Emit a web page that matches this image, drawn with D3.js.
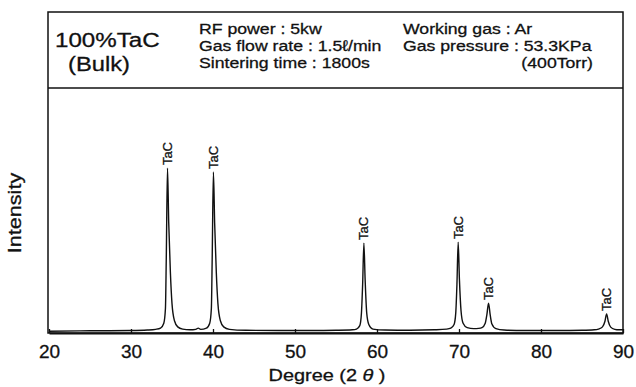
<!DOCTYPE html>
<html>
<head>
<meta charset="utf-8">
<script src="https://cdn.jsdelivr.net/npm/d3@7"></script>
<style>
  body { margin: 0; background: #fff; }
  svg { display: block; font-family: "Liberation Sans", Arial, sans-serif; }
  text { stroke: #111; stroke-width: 0.3px; }
</style>
</head>
<body>
<svg id="chart" width="636" height="387"></svg>
<script>
// XRD trace: [2theta, intensity]
const trace = [
  [20, 0.7], [25, 0.9], [30, 1.0], [32, 1.2], [33, 1.5], [33.6, 2.0], [34.0, 4],
  [34.2, 10], [34.3, 30], [34.45, 67.3], [34.6, 45], [34.8, 25], [35.0, 12],
  [35.3, 5], [35.7, 2.5], [36.3, 1.6], [37.2, 1.3], [37.9, 1.5], [38.2, 2.0],
  [38.5, 1.5], [39.2, 2.0], [39.6, 4], [39.8, 10], [39.9, 30], [40.05, 65.7],
  [40.2, 45], [40.4, 25], [40.6, 12], [40.9, 5], [41.3, 2.5], [42, 1.5],
  [44, 1.1], [48, 1.0], [52, 1.0], [55, 1.1], [57, 1.3], [57.5, 1.6],
  [57.9, 3], [58.1, 8], [58.25, 20], [58.4, 36.7], [58.55, 22], [58.75, 8],
  [59.0, 3.5], [59.5, 1.6], [61, 1.2], [64, 1.1], [67, 1.3], [68.5, 1.6],
  [69.0, 2.0], [69.4, 3.5], [69.6, 8], [69.75, 20], [69.9, 37.1], [70.05, 22],
  [70.25, 9], [70.5, 4], [71.0, 2.2], [71.8, 1.8], [72.4, 1.9], [72.8, 2.2],
  [73.2, 4], [73.4, 7.5], [73.6, 12.2], [73.8, 7.5], [74.0, 3.8], [74.5, 1.8],
  [75.5, 1.2], [78, 1.0], [82, 1.0], [85, 1.1], [86.5, 1.3], [87.0, 1.6],
  [87.5, 2.5], [87.8, 4.8], [88.0, 7.8], [88.2, 4.8], [88.5, 2.4], [89.0, 1.5],
  [89.5, 1.3], [90, 1.3]
];

// labelled peaks
const peakPos = [34.45, 40.05, 58.4, 69.9, 73.6, 88.0];
const peakHeight = [67.3, 65.7, 36.7, 37.1, 12.2, 7.8];
const peakLabel = "TaC";

const xTicks = [20, 30, 40, 50, 60, 70, 80, 90];

const svg = d3.select("#chart");

const frameLeft = 48, frameRight = 623, frameTop = 12, divider = 88, plotBottom = 333;

const x = d3.scaleLinear().domain([20, 90]).range([49, 623]);
const y = d3.scaleLinear().domain([0, 100]).range([plotBottom, divider]);

// frame and header divider
svg.append("rect")
  .attr("x", frameLeft).attr("y", frameTop)
  .attr("width", frameRight - frameLeft).attr("height", plotBottom - frameTop)
  .attr("fill", "none").attr("stroke", "#111").attr("stroke-width", 1.5);
svg.append("line")
  .attr("x1", frameLeft).attr("x2", frameRight)
  .attr("y1", divider).attr("y2", divider)
  .attr("stroke", "#111").attr("stroke-width", 1.5);

// header text
function stretched(txt, px, py, size, sx, anchor) {
  svg.append("text")
    .attr("transform", `translate(${px},${py}) scale(${sx},1)`)
    .attr("font-size", size)
    .attr("text-anchor", anchor || "start")
    .attr("fill", "#111")
    .text(txt);
}
// sample name, two lines
stretched("100%TaC", 55, 47, 21, 1.15);
stretched("(Bulk)", 68, 71, 21, 1.13);

stretched("RF power : 5kw", 199, 34, 15.5, 1.14);
stretched("Gas flow rate : 1.5\u2113/min", 199, 51, 15.5, 1.14);
stretched("Sintering time : 1800s", 199, 67.5, 15.5, 1.14);
stretched("Working gas : Ar", 403, 34, 15.5, 1.14);
stretched("Gas pressure : 53.3KPa", 403, 51, 15.5, 1.14);
stretched("(400Torr)", 593, 67.5, 15.5, 1.14, "end");

// x axis
const xAxis = d3.axisBottom(x)
  .tickValues(xTicks)
  .tickSizeInner(-4)
  .tickSizeOuter(0)
  .tickPadding(12);
const gx = svg.append("g")
  .attr("transform", `translate(0,${plotBottom})`)
  .call(xAxis);
gx.select(".domain").attr("stroke", "#111").attr("stroke-width", 2.2);
gx.selectAll(".tick line").attr("stroke", "#111").attr("stroke-width", 1.3);
gx.selectAll(".tick text")
  .attr("font-size", 19)
  .attr("font-family", "Liberation Sans, Arial, sans-serif")
  .attr("fill", "#111");

// axis titles
const xTitle = svg.append("text")
  .attr("transform", `translate(327,381) scale(1.17,1)`)
  .attr("text-anchor", "middle")
  .attr("font-size", 17)
  .attr("fill", "#111");
xTitle.append("tspan").text("Degree (2 ");
xTitle.append("tspan").attr("font-style", "italic").text("\u03b8");
xTitle.append("tspan").text(" )");

svg.append("text")
  .attr("transform", `translate(21,213) rotate(-90) scale(1.2,1)`)
  .attr("text-anchor", "middle")
  .attr("font-size", 18)
  .attr("fill", "#111")
  .text("Intensity");

// trace
const line = d3.line()
  .x(d => x(d[0]))
  .y(d => y(d[1]))
  .curve(d3.curveMonotoneX);
svg.append("path")
  .datum(trace)
  .attr("d", line)
  .attr("fill", "none")
  .attr("stroke", "#111")
  .attr("stroke-width", 1.4)
  .attr("stroke-linejoin", "round");

// peak labels
svg.selectAll(".peak-label")
  .data(peakPos)
  .enter()
  .append("text")
    .attr("class", "peak-label")
    .attr("transform", (d, i) => `translate(${x(d) + 4.5},${y(peakHeight[i]) - 3}) rotate(-90)`)
    .attr("font-size", 13)
    .attr("fill", "#111")
    .text(peakLabel);
</script>
</body>
</html>
